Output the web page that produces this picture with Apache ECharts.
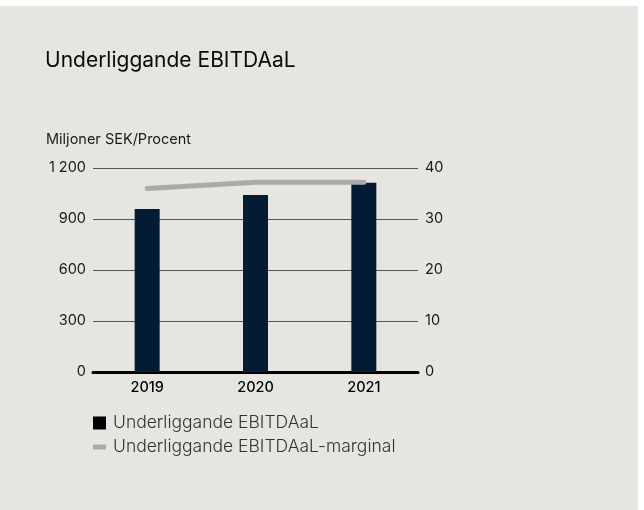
<!DOCTYPE html>
<html>
<head>
<meta charset="utf-8">
<script src="https://cdn.jsdelivr.net/npm/echarts@6/dist/echarts.min.js"></script>
<style>
  html, body { margin: 0; padding: 0; background: #ffffff; }
  #card { position: absolute; left: 0; top: 6px; width: 638px; height: 504px; background: #e7e5e1; }
  #main { width: 638px; height: 504px; }
</style>
</head>
<body>
<div id="card"><div id="main"></div></div>
<script>
// data
var years = ['2019', '2020', '2021']
var ebitdaal = [959, 1041, 1113]
var marginal = [36.0, 37.2, 37.2]
var leftTicks = { min: 0, max: 1200, interval: 300 }
var rightTicks = { min: 0, max: 40, interval: 10 }

var font = 'Inter, "Noto Sans", sans-serif'
var chart = echarts.init(document.getElementById('main'))
chart.setOption({
  backgroundColor: 'transparent',
  textStyle: { fontFamily: font },
  title: [
    {
      text: 'Underliggande EBITDAaL',
      left: 45,
      top: 44,
      padding: 0,
      textStyle: { fontSize: 21, fontWeight: 'normal', color: '#0a0a0a', fontFamily: font }
    },
    {
      text: 'Miljoner SEK/Procent',
      left: 46,
      top: 126,
      padding: 0,
      textStyle: { fontSize: 14.5, fontWeight: 'normal', color: '#1a1a1a', fontFamily: font }
    }
  ],
  grid: { left: 93, right: 220, top: 162, bottom: 138 },
  legend: {
    orient: 'vertical',
    left: 93,
    top: 408,
    padding: 0,
    itemWidth: 13,
    itemHeight: 13,
    itemGap: 6,
    textStyle: { fontSize: 17.5, fontWeight: 300, color: '#333', fontFamily: font, padding: [0, 0, 0, 2] },
    data: [
      { name: 'Underliggande EBITDAaL', icon: 'rect', itemStyle: { color: '#000' } },
      { name: 'Underliggande EBITDAaL-marginal', icon: 'path://M0,4L13,4L13,9L0,9Z', itemStyle: { color: '#aaaaaa' } }
    ]
  },
  xAxis: {
    type: 'category',
    data: years,
    axisLine: { lineStyle: { color: '#000', width: 3 } },
    axisTick: { show: false },
    axisLabel: { fontSize: 14.5, fontWeight: 500, color: '#000', margin: 8 }
  },
  yAxis: [
    {
      type: 'value',
      min: leftTicks.min,
      max: leftTicks.max,
      interval: leftTicks.interval,
      axisLine: { show: false },
      axisTick: { show: false },
      axisLabel: {
        fontSize: 14.5, color: '#1a1a1a', margin: 7,
        formatter: function (v) { return String(v).replace(/\B(?=(\d{3})+(?!\d))/g, ' ') }
      },
      splitLine: { lineStyle: { color: '#555', width: 1 } }
    },
    {
      type: 'value',
      min: rightTicks.min,
      max: rightTicks.max,
      interval: rightTicks.interval,
      axisLine: { show: false },
      axisTick: { show: false },
      axisLabel: { fontSize: 14.5, color: '#1a1a1a', margin: 7 },
      splitLine: { show: false }
    }
  ],
  series: [
    {
      name: 'Underliggande EBITDAaL',
      type: 'bar',
      data: ebitdaal,
      barWidth: 25,
      itemStyle: { color: '#031b33' },
      z: 2
    },
    {
      name: 'Underliggande EBITDAaL-marginal',
      type: 'line',
      yAxisIndex: 1,
      data: marginal,
      symbol: 'none',
      lineStyle: { color: '#aaaaaa', width: 5, cap: 'round' },
      z: 3
    }
  ]
})
</script>
</body>
</html>
